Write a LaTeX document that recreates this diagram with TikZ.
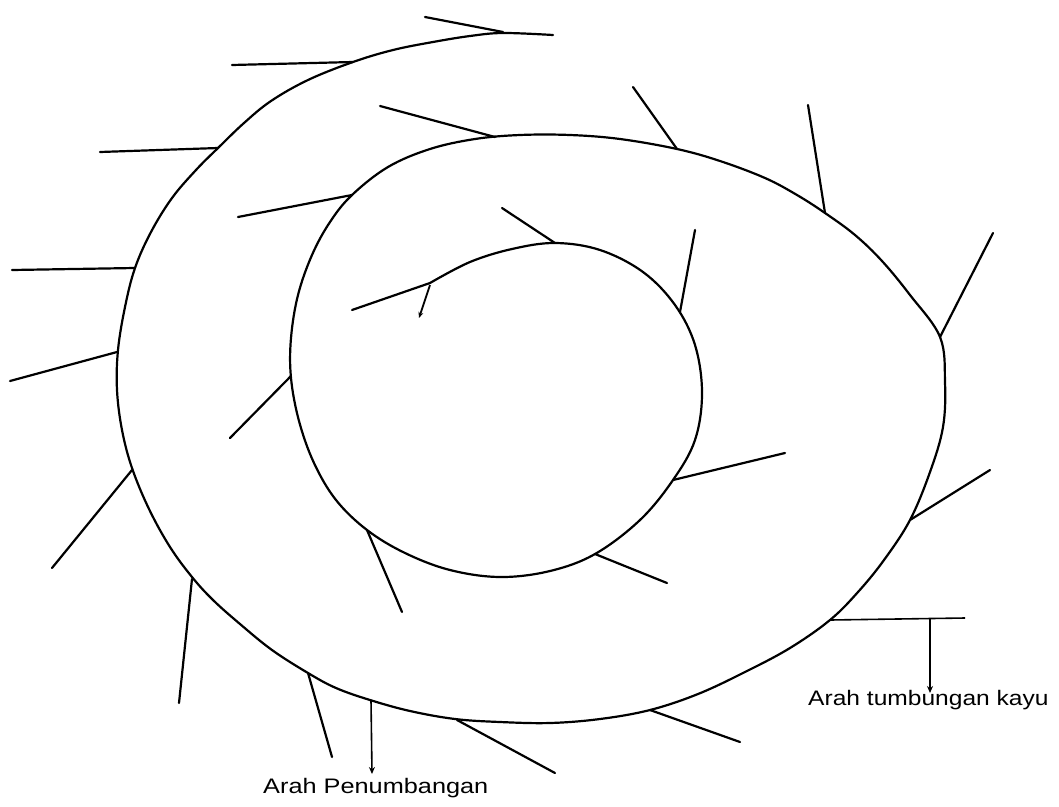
\documentclass[tikz,border=0pt]{standalone}
\usepackage{fontspec}
\setmainfont{Liberation Sans}
\usetikzlibrary{arrows.meta}
\begin{document}
\begin{tikzpicture}[x=1pt,y=-1pt,
  spiralline/.style={line width=2.2pt,line cap=round,line join=round},
  branch/.style={line width=2.2pt,line cap=round},
  thinline/.style={line width=1.6pt},
  fallarrow/.style={line width=1.6pt,-{Stealth[length=7pt,width=6pt]}},
  lbl/.style={font=\fontsize{21}{24}\selectfont,xscale=1.17,inner sep=0pt}]
\useasboundingbox (0,0) rectangle (1059,806);
% spiral
\draw[spiralline] plot[smooth,tension=0.6] coordinates {
 (430,283) (470,262) (512,249) (555,243) (600,250) (643,272) (675,305)
 (695,345) (702,393) (695,440) (673,480) (640,520) (595,554) (550,571)
 (500,577) (450,570) (405,553) (367,530) (336,500) (314,463) (299,421)
 (291,378) (291,338) (298,295) (312,255) (330,222) (352,195) (388,167)
 (430,149) (475,139) (520,135) (570,135) (620,139) (677,149) (720,161)
 (765,178) (797,195) (825,213) (855,235) (882,261) (910,295) (940,337)
 (945,382) (943,427) (930,472) (910,520) (884,560) (858,592) (830,620)
 (790,648) (745,672) (698,694) (650,710) (600,719) (550,723) (500,722)
 (455,719) (410,711) (370,700) (336,688) (308,673) (272,650) (240,624)
 (213,600) (192,577) (170,547) (149,509) (132,468) (122,430) (117,390)
 (118,350) (125,307) (135,268) (151,232) (172,198) (196,170) (218,148)
 (244,123) (271,101) (308,80) (353,62) (393,50) (433,42) (470,36)
 (503,33) (553,35)};
% branches
\draw[branch] (425,17) -- (503,32);
\draw[branch] (232,65) -- (353,62);
\draw[branch] (100,152) -- (218,148);
\draw[branch] (12,270) -- (135,268);
\draw[branch] (10,381) -- (117,352);
\draw[branch] (52,568) -- (132,470);
\draw[branch] (179,703) -- (192,579);
\draw[branch] (332,757) -- (308,673);
\draw[branch] (555,773) -- (457,720);
\draw[branch] (740,742) -- (650,710);
\draw[branch] (990,470) -- (910,520);
\draw[branch] (993,233) -- (940,337);
\draw[branch] (808,105) -- (825,213);
\draw[branch] (633,87) -- (677,149);
\draw[branch] (380,106) -- (495,137);
\draw[branch] (238,217) -- (352,195);
\draw[branch] (230,438) -- (291,376);
\draw[branch] (402,612) -- (367,530);
\draw[branch] (667,583) -- (595,554);
\draw[branch] (785,453) -- (673,480);
\draw[branch] (695,230) -- (680,312);
\draw[branch] (502,208) -- (555,243);
\draw[branch] (352,310) -- (430,283);
\draw[line width=1.8pt,-{Stealth[length=6pt,width=5pt]}] (430,285) -- (419,318);
% labels and arrows
\draw[thinline] (830,620) -- (965,618);
\coordinate (ka) at (930,619);
\node[lbl,anchor=west] (kayu) at (808,700) {Arah tumbungan kayu};
\draw[fallarrow] (ka) -- (930,693);
\coordinate (pa) at (371,700);
\node[lbl,anchor=west,xscale=1.03] (penum) at (263,788) {Arah Penumbangan};
\draw[fallarrow] (pa) -- (372,774);
\end{tikzpicture}
\end{document}
